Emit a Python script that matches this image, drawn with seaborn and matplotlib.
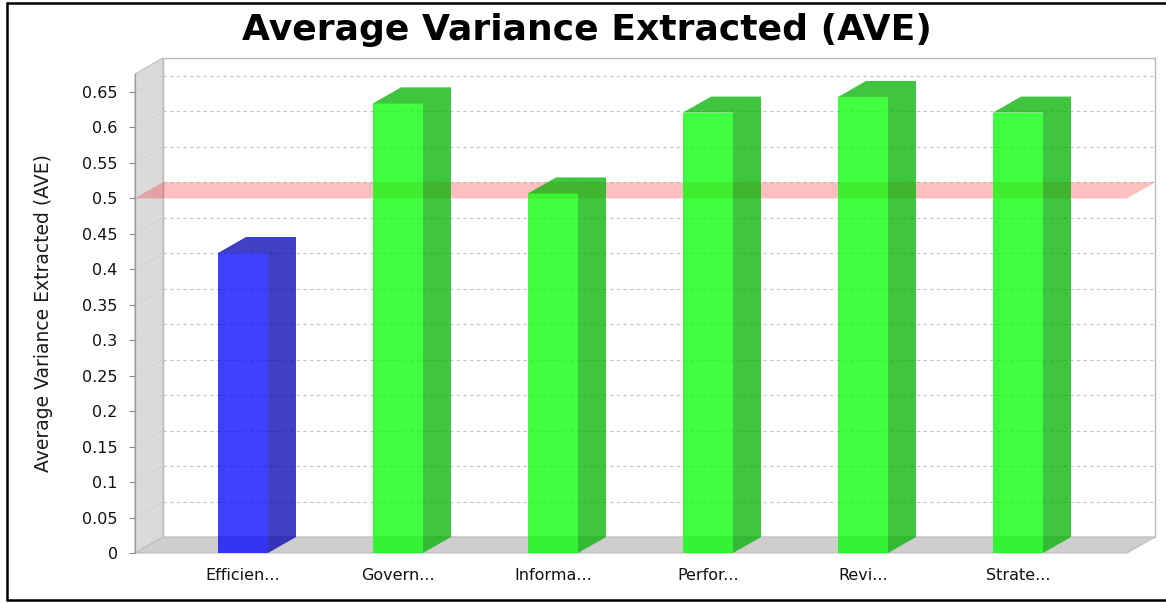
import matplotlib
matplotlib.use("Agg")
import matplotlib.pyplot as plt
import pandas as pd
import seaborn as sns
from matplotlib.patches import Polygon, Rectangle
from matplotlib.lines import Line2D

# ---- data -------------------------------------------------------------
constructs = ["Efficien...", "Govern...", "Informa...", "Perfor...", "Revi...", "Strate..."]
ave_values = [0.423, 0.634, 0.507, 0.621, 0.643, 0.621]
threshold = 0.5
ytick_values = [0, 0.05, 0.1, 0.15, 0.2, 0.25, 0.3, 0.35, 0.4, 0.45, 0.5, 0.55, 0.6, 0.65]
ytick_labels = ["0", "0.05", "0.1", "0.15", "0.2", "0.25", "0.3", "0.35", "0.4",
                "0.45", "0.5", "0.55", "0.6", "0.65"]
title = "Average Variance Extracted (AVE)"
ylabel = "Average Variance Extracted (AVE)"

# ---- style ------------------------------------------------------------
sns.set_style("white")
plt.rcParams["font.family"] = ["DejaVu Sans"]

FRONT_OK, SHADE_OK = "#00FF00", "#00B200"
FRONT_LOW, SHADE_LOW = "#0000FF", "#0000B2"
BAR_ALPHA = 0.75
WALL, FLOOR = "#DADADA", "#CECECE"
GRID = "#C4C4C4"
DEPTH_X, DEPTH_Y = 28, 16          # 3-D depth offset in pixels
W, H = 1166, 603

front_colors = [FRONT_OK if v >= threshold else FRONT_LOW for v in ave_values]
shade_colors = [SHADE_OK if v >= threshold else SHADE_LOW for v in ave_values]

df = pd.DataFrame({"construct": constructs, "ave": ave_values})

fig = plt.figure(figsize=(W / 100, H / 100), dpi=100)
fig.patch.set_facecolor("white")
ax = fig.add_axes([135 / W, 50 / H, 992 / W, 479 / H])
ax.set_facecolor("none")

sns.barplot(data=df, x="construct", y="ave", hue="construct", palette=front_colors,
            width=50 / 155, saturation=1, legend=False, ax=ax, zorder=3,
            edgecolor="none", linewidth=0, alpha=BAR_ALPHA)

x0, x1 = -0.6968, 5.7032
y0, y1 = 0.0, 0.6754
ax.set_xlim(x0, x1)
ax.set_ylim(y0, y1)

# depth offset in data units
dx = DEPTH_X * (x1 - x0) / 992
dy = DEPTH_Y * (y1 - y0) / 479

# back plane
ax.add_patch(Rectangle((x0 + dx, y0 + dy), x1 - x0, y1 - y0, facecolor="white",
                       edgecolor="#B8B8B8", linewidth=1.0, zorder=0.2, clip_on=False))
# left wall
ax.add_patch(Polygon([(x0, y0), (x0, y1), (x0 + dx, y1 + dy), (x0 + dx, y0 + dy)],
                     closed=True, facecolor=WALL, edgecolor="#BDBDBD", linewidth=0.8,
                     zorder=0.4, clip_on=False))
# floor
ax.add_patch(Polygon([(x0, y0), (x1, y0), (x1 + dx, y0 + dy), (x0 + dx, y0 + dy)],
                     closed=True, facecolor=FLOOR, edgecolor="#BDBDBD", linewidth=0.8,
                     zorder=0.5, clip_on=False))

# dashed gridlines on the back plane and across the wall
for v in ytick_values[1:]:
    ax.add_line(Line2D([x0 + dx, x1 + dx], [v + dy, v + dy], color=GRID, lw=0.8,
                       linestyle=(0, (3, 3)), zorder=0.3, clip_on=False))
    ax.add_line(Line2D([x0, x0 + dx], [v, v + dy], color="#C8C8C8", lw=0.6,
                       linestyle=(0, (3, 3)), zorder=0.45, clip_on=False))

# threshold band at 0.5, lying behind the bars
ax.add_patch(Polygon([(x0, threshold), (x1, threshold), (x1 + dx, threshold + dy),
                      (x0 + dx, threshold + dy)], closed=True, facecolor="red",
                     alpha=0.25, edgecolor="none", zorder=1, clip_on=False))

# top and side faces of each bar, drawn as one shaded outline
bars = [p for p in ax.patches if isinstance(p, Rectangle) and p.get_zorder() == 3]
for bar, shade in zip(bars, shade_colors):
    bl = bar.get_x()
    br = bl + bar.get_width()
    top = bar.get_height()
    ax.add_patch(Polygon([(bl, top), (bl + dx, top + dy), (br + dx, top + dy),
                          (br + dx, dy), (br, 0), (br, top)],
                         closed=True, facecolor=shade, edgecolor="none", zorder=3,
                         alpha=BAR_ALPHA, clip_on=False))

# axes
for side in ["top", "right", "bottom"]:
    ax.spines[side].set_visible(False)
ax.spines["left"].set_color("#9A9A9A")
ax.spines["left"].set_linewidth(0.9)
ax.spines["left"].set_zorder(6)
ax.set_yticks(ytick_values)
ax.set_yticklabels(ytick_labels)
ax.tick_params(axis="y", direction="out", length=4.5, width=0.8, color="#8A8A8A",
               pad=8, labelsize=11.5, labelcolor="#111111", left=True)
ax.tick_params(axis="x", length=0, pad=11, labelsize=11.5, labelcolor="#111111")
ax.set_xlabel("")
ax.set_ylabel(ylabel, fontsize=13.5, color="#1A1A1A")
ax.yaxis.label.set_va("center")
ax.yaxis.set_label_coords((44 - 135) / 992, 0.5)

fig.text(587 / W, 1 - 40 / H, title, ha="center", va="baseline",
         fontsize=26, fontweight="bold", color="black")

# outer frame
frame_kw = dict(color="black", lw=1.8, transform=fig.transFigure)
fig.add_artist(Line2D([7 / W, 7 / W], [1 - 3 / H, 1 - 600 / H], **frame_kw))
fig.add_artist(Line2D([7 / W, 1.0], [1 - 3 / H, 1 - 3 / H], **frame_kw))
fig.add_artist(Line2D([7 / W, 1.0], [1 - 600 / H, 1 - 600 / H], **frame_kw))

fig.savefig("out.png", dpi=100)
